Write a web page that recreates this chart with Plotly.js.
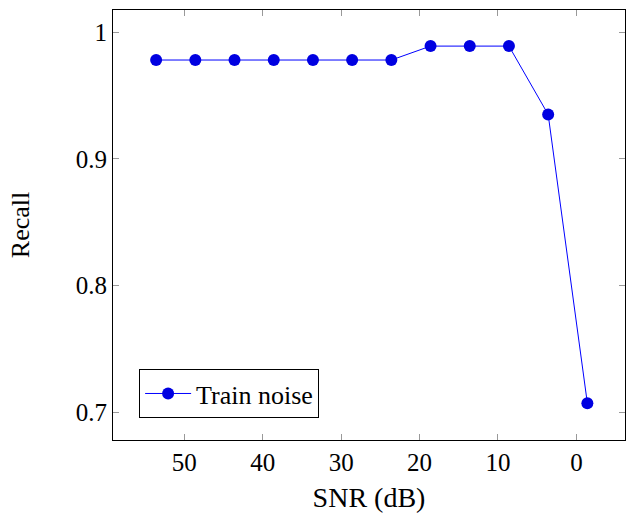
<!DOCTYPE html>
<html>
<head>
<meta charset="utf-8">
<script src="https://cdn.plot.ly/plotly-3.0.1.min.js"></script>
<style>html,body{margin:0;padding:0;background:#fff;}#chart{width:626px;height:518px;}</style>
</head>
<body>
<div id="chart"></div>
<script>
const snr = [53.6, 48.6, 43.6, 38.6, 33.6, 28.6, 23.6, 18.6, 13.6, 8.6, 3.6, -1.4];
const recall = [0.978, 0.978, 0.978, 0.978, 0.978, 0.978, 0.978, 0.989, 0.989, 0.989, 0.935, 0.707];
const xTicks = [50, 40, 30, 20, 10, 0];
const yTicks = [0.7, 0.8, 0.9, 1];
const yTickText = ['0.7', '0.8', '0.9', '1'];

const font = '"Liberation Serif", "Times New Roman", serif';
const trace = {
  x: snr, y: recall, type: 'scatter', mode: 'lines+markers', name: 'Train noise',
  line: {color: 'rgb(0,0,255)', width: 1},
  marker: {color: 'rgb(0,0,225)', size: 12}
};
const axisCommon = {
  showline: true, linecolor: '#000', linewidth: 1, mirror: 'ticks',
  ticks: 'inside', ticklen: 6, tickcolor: '#999', tickwidth: 1,
  showgrid: false, zeroline: false,
  tickfont: {family: font, size: 25, color: '#000'}
};
const layout = {
  width: 626, height: 518,
  margin: {l: 113, r: 1, t: 10, b: 78},
  paper_bgcolor: '#fff', plot_bgcolor: '#fff',
  showlegend: true,
  font: {family: font, color: '#000'},
  xaxis: Object.assign({}, axisCommon, {
    range: [59.1, -6.2], tickvals: xTicks, ticktext: xTicks.map(String),
    title: {text: 'SNR (dB)', font: {family: font, size: 28, color: '#000'}, standoff: 12}
  }),
  yaxis: Object.assign({}, axisCommon, {
    range: [0.678, 1.0175], tickvals: yTicks, ticktext: yTickText,
    title: {text: 'Recall', font: {family: font, size: 26, color: '#000'}, standoff: 38}
  }),
  legend: {
    x: 0.051, y: 0.051, xanchor: 'left', yanchor: 'bottom',
    bordercolor: '#000', borderwidth: 1, bgcolor: '#fff', itemwidth: 46,
    font: {family: font, size: 26, color: '#000'}
  }
};
Plotly.newPlot('chart', [trace], layout, {displayModeBar: false, staticPlot: true});
</script>
</body>
</html>
